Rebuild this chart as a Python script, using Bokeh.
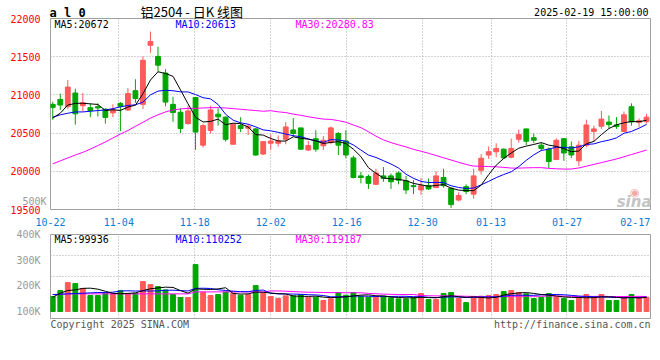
import numpy as np
from bokeh.plotting import figure
from bokeh.layouts import column
from bokeh.models import Range1d, FixedTicker, Label, PrintfTickFormatter, ColumnDataSource
from bokeh.embed import file_html
from bokeh.resources import INLINE

# ---------------- data ----------------
dates = ["10-22", "10-23", "10-24", "10-25", "10-28", "10-29", "10-30", "10-31",
         "11-01", "11-04", "11-05", "11-06", "11-07", "11-08", "11-11", "11-12", "11-13", "11-14", "11-15",
         "11-18", "11-19", "11-20", "11-21", "11-22", "11-25", "11-26", "11-27", "11-28", "11-29",
         "12-02", "12-03", "12-04", "12-05", "12-06", "12-09", "12-10", "12-11", "12-12", "12-13",
         "12-16", "12-17", "12-18", "12-19", "12-20", "12-23", "12-24", "12-25", "12-26", "12-27",
         "12-30", "12-31", "01-02", "01-03", "01-06", "01-07", "01-08", "01-09", "01-10",
         "01-13", "01-14", "01-15", "01-16", "01-17", "01-20", "01-21", "01-22", "01-23", "01-24",
         "01-27", "02-05", "02-06", "02-07", "02-10", "02-11", "02-12", "02-13", "02-14",
         "02-17", "02-18", "02-19"]
tick_labels = ["10-22", "11-04", "11-18", "12-02", "12-16", "12-30", "01-13", "01-27", "02-17"]
price_ticks = [19500, 20000, 20500, 21000, 21500, 22000]
vol_ticks = [100, 200, 300, 400]  # thousands

opens = [20876, 20940, 20846, 21025, 20859, 20833, 20846, 20812, 20765, 20889,
         20803, 21055, 20876, 21649, 21504, 21286, 20876, 20773, 20624, 20966,
         20342, 20534, 20748, 20709, 20354, 20598, 20564, 20555, 20226, 20367,
         20367, 20419, 20542, 20568, 20278, 20427, 20333, 20376, 20495, 20397,
         20175, 19940, 19931, 19829, 19940, 19940, 19978, 19876, 19812, 19756,
         19812, 19786, 19919, 19778, 19624, 19799, 19701, 20013, 20213, 20256,
         20290, 20184, 20419, 20555, 20440, 20342, 20290, 20154, 20427, 20320,
         20137, 20342, 20521, 20589, 20645, 20607, 20521, 20846, 20641, 20649]
highs = [20910, 21017, 21196, 21081, 21025, 20889, 20889, 20824, 20876, 20906,
         21089, 21205, 21504, 21829, 21632, 21337, 20974, 20824, 20859, 20974,
         20624, 20859, 20824, 20718, 20619, 20709, 20619, 20568, 20389, 20483,
         20470, 20645, 20696, 20568, 20397, 20538, 20461, 20589, 20513, 20538,
         20205, 19991, 19957, 20034, 20055, 19970, 20000, 19940, 19884, 19914,
         19906, 20000, 20034, 19786, 19722, 19829, 20034, 20226, 20325, 20367,
         20299, 20427, 20547, 20555, 20495, 20376, 20312, 20431, 20436, 20389,
         20397, 20675, 20598, 20790, 20730, 20709, 20782, 20889, 20692, 20752]
lows = [20675, 20803, 20816, 20611, 20782, 20709, 20718, 20624, 20709, 20525,
        20790, 20897, 20816, 21551, 21303, 20850, 20649, 20504, 20611, 20282,
        20312, 20495, 20598, 20389, 20350, 20513, 20474, 20205, 20213, 20282,
        20325, 20354, 20453, 20278, 20265, 20256, 20278, 20354, 20213, 20171,
        19906, 19842, 19769, 19820, 19863, 19769, 19829, 19701, 19701, 19692,
        19756, 19786, 19786, 19521, 19607, 19701, 19641, 19957, 20162, 20184,
        20162, 20171, 20376, 20342, 20367, 20265, 20043, 20145, 20137, 20175,
        20068, 20312, 20384, 20555, 20560, 20555, 20513, 20598, 20581, 20624]
closes = [20837, 20867, 21102, 20752, 20897, 20795, 20829, 20705, 20803, 20850,
          21017, 20953, 21453, 21700, 21389, 20906, 20769, 20560, 20790, 20513,
          20598, 20803, 20713, 20419, 20619, 20560, 20589, 20213, 20389, 20397,
          20397, 20581, 20495, 20290, 20337, 20290, 20406, 20568, 20342, 20213,
          19919, 19919, 19842, 19978, 19906, 19863, 19884, 19756, 19799, 19812,
          19769, 19940, 19812, 19564, 19684, 19735, 19940, 20171, 20256, 20299,
          20175, 20299, 20483, 20393, 20406, 20299, 20128, 20406, 20239, 20213,
          20342, 20607, 20555, 20683, 20611, 20585, 20739, 20645, 20662, 20709]
volumes = [158.4, 181.8, 212.9, 209.0, 189.5, 162.3, 162.3, 171.4, 168.8, 181.8,
           168.8, 171.4, 216.8, 205.1, 197.3, 184.4, 166.2, 154.5, 154.5, 283.1,
           175.3, 162.3, 166.2, 176.6, 171.4, 163.6, 166.2, 201.2, 171.4, 158.4,
           150.6, 161.0, 161.0, 166.2, 155.8, 155.8, 142.8, 149.3, 174.0, 163.6,
           174.0, 158.4, 155.8, 155.8, 159.7, 153.2, 149.3, 149.3, 155.8, 170.1,
           146.7, 146.7, 170.1, 174.0, 150.6, 135.0, 155.8, 159.7, 162.3, 166.2,
           177.9, 181.8, 174.0, 168.8, 150.6, 155.8, 170.1, 157.1, 150.6, 142.8,
           151.9, 166.2, 158.4, 166.2, 142.8, 142.8, 155.8, 166.2, 155.8, 155.8]

# moving-average values visible at the left edge (they depend on earlier sessions)
ma5_head = [20696, 20761, 20867, 20889]
ma10_head = [20709, 20739, 20760, 20777, 20777, 20786, 20795, 20803, 20820]
ma30_head = [20098, 20136, 20175, 20213, 20248, 20290, 20337, 20384, 20436, 20487,
             20534, 20589, 20641, 20696, 20739, 20777, 20803, 20816, 20824, 20824,
             20829, 20833, 20833, 20829, 20820, 20812, 20803, 20795, 20786]
vol_ma5_head = [155.8, 171.4, 181.8, 184.4]
vol_ma10_head = [166.2, 167.5, 168.8, 170.1, 171.4, 172.7, 174.0, 174.0, 175.3]
vol_ma30_head = [166.2, 166.2] + [168.8] * 17 + [176.6] * 10

header_price = [("MA5:20672", "black"), ("MA10:20613", "#0000ff"), ("MA30:20280.83", "#ff00ff")]
header_vol = [("MA5:99936", "black"), ("MA10:110252", "#0000ff"), ("MA30:119187", "#ff00ff")]


def moving_average(series, n, head):
    s = np.asarray(series, dtype=float)
    out = list(head)
    for i in range(len(head), len(s)):
        out.append(float(s[i - n + 1:i + 1].mean()))
    return out


ma5 = moving_average(closes, 5, ma5_head)
ma10 = moving_average(closes, 10, ma10_head)
ma30 = moving_average(closes, 30, ma30_head)
vma5 = moving_average(volumes, 5, vol_ma5_head)
vma10 = moving_average(volumes, 10, vol_ma10_head)
vma30 = moving_average(volumes, 30, vol_ma30_head)

# ---------------- style ----------------
MONO = "DejaVu Sans Mono"
RED = "#ff5a5a"
GREEN = "#00a600"
GRID = "#a8a8a8"
FRAME = "#a0a0a0"
XLAB = "#0a7bd6"
W = 660
H1, H2 = 228, 117

N = len(dates)
xs = np.arange(N)
X0, X1 = -0.30, N - 1 + 0.53
tick_pos = [round(X0 + 0.001 + dates.index(t) * (X1 - X0) / (N - 1), 4) for t in tick_labels]

colors = [RED if c >= o else GREEN for o, c in zip(opens, closes)]
src = ColumnDataSource(dict(
    x=xs, o=opens, h=highs, l=lows, c=closes,
    top=np.maximum(opens, closes), bottom=np.minimum(opens, closes),
    color=colors, vol=volumes))

# ---------------- price panel ----------------
p = figure(width=W, height=H1, x_range=Range1d(X0, X1), y_range=Range1d(price_ticks[0], price_ticks[-1]),
           output_backend="svg", toolbar_location=None,
           min_border_left=50, min_border_right=10, min_border_top=18, min_border_bottom=15)
p.outline_line_color = FRAME
p.outline_line_width = 1

p.xaxis.ticker = FixedTicker(ticks=tick_pos)
p.xaxis.major_label_overrides = {tp: lab for tp, lab in zip(tick_pos, tick_labels)}
p.yaxis.ticker = FixedTicker(ticks=price_ticks)
for ax in (p.xaxis, p.yaxis):
    ax.axis_line_color = None
    ax.major_tick_line_color = None
    ax.minor_tick_line_color = None
    ax.major_label_text_font = MONO
    ax.major_label_text_font_size = "10px"
p.xaxis.major_label_text_color = XLAB
p.xaxis.major_label_standoff = 2
p.yaxis.major_label_text_color = "#ff0000"
p.yaxis.major_label_standoff = 4

p.xgrid.ticker = FixedTicker(ticks=tick_pos[:-1])
p.ygrid.ticker = FixedTicker(ticks=price_ticks[1:-1])
for g in (p.xgrid, p.ygrid):
    g.grid_line_color = GRID
    g.grid_line_dash = "1 2"
    g.grid_line_width = 1

p.segment(x0="x", y0="h", x1="x", y1="l", line_color="color", line_width=1, source=src)
p.vbar(x="x", top="top", bottom="bottom", width=0.64, fill_color="color", line_color="color",
       line_width=1, source=src)
p.line(xs, ma30, line_color="#ff00ff", line_width=1)
p.line(xs, ma10, line_color="#0000ff", line_width=1)
p.line(xs, ma5, line_color="black", line_width=1)

# ---------------- volume panel ----------------
VOL_BOTTOM, VOL_TOP, VOL_BASE = 72.7, 400.5, 100
v = figure(width=W, height=H2, x_range=p.x_range, y_range=Range1d(VOL_BOTTOM, VOL_TOP),
           output_backend="svg", toolbar_location=None,
           min_border_left=50, min_border_right=10, min_border_top=6, min_border_bottom=27)
v.outline_line_color = FRAME
v.xaxis.visible = False
v.yaxis.ticker = FixedTicker(ticks=vol_ticks)
v.yaxis.formatter = PrintfTickFormatter(format="%dK")
v.yaxis.axis_line_color = None
v.yaxis.major_tick_line_color = None
v.yaxis.minor_tick_line_color = None
v.yaxis.major_label_text_font = MONO
v.yaxis.major_label_text_font_size = "10px"
v.yaxis.major_label_text_color = "#9a9a9a"
v.yaxis.major_label_standoff = 4
v.xgrid.ticker = FixedTicker(ticks=tick_pos[:-1])
quarter = (VOL_TOP - VOL_BOTTOM) / 4
v.ygrid.ticker = FixedTicker(ticks=[VOL_BOTTOM + k * quarter for k in (1, 2, 3)])
for g in (v.xgrid, v.ygrid):
    g.grid_line_color = GRID
    g.grid_line_dash = "1 2"

v.vbar(x="x", top="vol", bottom=VOL_BASE, width=0.64, fill_color="color", line_color="color",
       line_width=1, source=src)
v.line(xs, vma30, line_color="#ff00ff", line_width=1)
v.line(xs, vma10, line_color="#0000ff", line_width=1)
v.line(xs, vma5, line_color="black", line_width=1)

# ---------------- transparent text layer over both panels ----------------
HT = H1 + H2
t = figure(width=W, height=HT, x_range=Range1d(0, 1), y_range=Range1d(0, 1),
           output_backend="svg", toolbar_location=None, min_border=0,
           x_axis_location=None, y_axis_location=None,
           styles={"margin-top": f"-{HT}px"})
t.frame_align = False
t.outline_line_color = None
t.background_fill_alpha = 0
t.border_fill_alpha = 0
t.xgrid.visible = False
t.ygrid.visible = False


def put(X, Y, text, color, size="10px", align="left", font=MONO, style="normal"):
    t.add_layout(Label(x=X, y=HT - Y, x_units="screen", y_units="screen",
                       text=text, text_color=color, text_font_size=size, text_align=align,
                       text_baseline="middle", text_font=font, text_font_style=style))


put(49, 12, "a l 0", "black", size="12px", style="bold")
put(140, 11, "铝2504 - 日K 线图", "black", size="13px", font="Noto Sans CJK SC")
put(648, 12, "2025-02-19 15:00:00", "black", align="right")
for (txt, col), X in zip(header_price, (54, 175, 295)):
    put(X, 24, txt, col)
put(46, 201, "500K", "#9a9a9a", align="right")
put(634, 191, "◉", "#f2a6a6", size="11px", font="Noto Sans", align="center")
put(651, 201, "sina", "#c4c4c4", size="15px", font="DejaVu Sans", align="right", style="bold italic")
for (txt, col), X in zip(header_vol, (54, 175, 295)):
    put(X, 239, txt, col)
put(50, 324, "Copyright 2025 SINA.COM", "#555555")
put(650, 324, "http://finance.sina.com.cn", "#555555", align="right")

layout = column(p, v, t, spacing=0)
open("out.html", "w").write(file_html(layout, INLINE))
